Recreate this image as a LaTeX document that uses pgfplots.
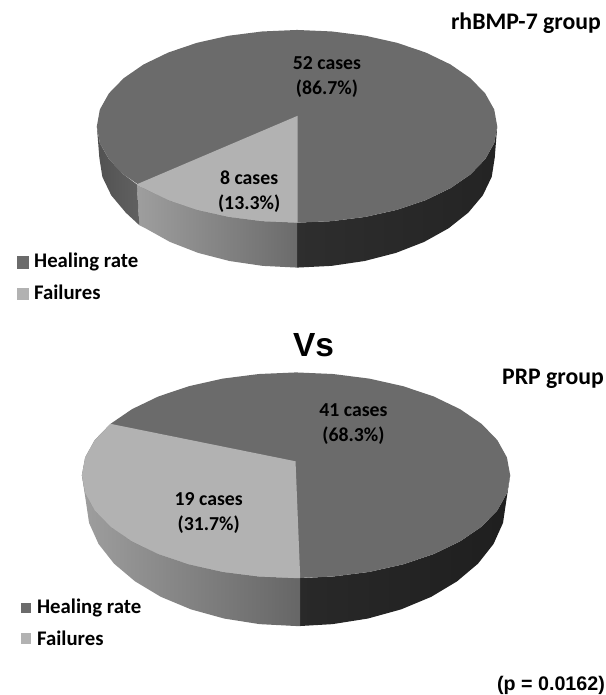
\documentclass[border=0pt]{standalone}
\usepackage{pgfplots}
\pgfplotsset{compat=1.18}
\usepackage{fontspec}
\setmainfont{Carlito}
\newfontfamily\arialb{Liberation Sans}
\definecolor{heal}{HTML}{6B6B6B}
\definecolor{fail}{HTML}{B2B2B2}
\newcommand{\lbl}{\fontsize{19.8}{25}\selectfont\bfseries}
\newcommand{\leg}{\fontsize{20.8}{25}\selectfont\bfseries}
\newcommand{\grp}{\fontsize{23.8}{25}\selectfont\bfseries}
\begin{document}
\begin{tikzpicture}
\begin{axis}[scale only axis,width=606pt,height=695pt,xmin=0,xmax=606,ymin=0,ymax=695,y dir=reverse,
  axis line style={draw=none},tick style={draw=none},xtick=\empty,ytick=\empty,clip=false,no markers]
% rhBMP-7 pie: walls
\addplot[draw=none,left color=black!82,right color=black!86] coordinates {(498,126.5)(495,143.3)(485.9,159.5)(471.1,174.8)(451.1,188.5)(426.4,200.4)(397.8,210.1)(366.1,217.2)(332.3,221.5)(297.5,223)(297.5,268)(331.9,266.3)(365.2,261.4)(396.5,253.3)(424.8,242.3)(449.2,228.7)(469,213)(483.6,195.6)(492.5,177.1)(495.5,158)} --cycle;
\addplot[draw=none,left color=black!38,right color=black!58] coordinates {(297.5,223)(262.7,221.5)(228.9,217.2)(197.2,210.1)(168.6,200.4)(143.9,188.5)(137,184.6)(139.5,225.5)(145.8,228.7)(170.2,242.3)(198.5,253.3)(229.8,261.4)(263.1,266.3)(297.5,268)} --cycle;
\addplot[draw=none,left color=black!68,right color=black!62] coordinates {(137,184.6)(123.9,174.8)(109.1,159.5)(100,143.3)(97,126.5)(99.5,158)(102.5,177.1)(111.4,195.6)(126,213)(139.5,225.5)} --cycle;
% rhBMP-7 pie: top face
\addplot[draw=none,fill=heal] coordinates {(297.5,30)(332.3,31.5)(366.1,35.8)(397.8,42.9)(426.4,52.6)(451.1,64.5)(471.1,78.3)(485.9,93.5)(495,109.7)(498,126.5)(495,143.3)(485.9,159.5)(471.1,174.8)(451.1,188.5)(426.4,200.4)(397.8,210.1)(366.1,217.2)(332.3,221.5)(297.5,223)(262.7,221.5)(228.9,217.2)(197.2,210.1)(168.6,200.4)(143.9,188.5)(123.9,174.8)(109.1,159.5)(100,143.3)(97,126.5)(100,109.7)(109.1,93.5)(123.9,78.3)(143.9,64.5)(168.6,52.6)(197.2,42.9)(228.9,35.8)(262.7,31.5)} --cycle;
\addplot[draw=none,fill=fail] coordinates {(298,116)(298,223)(262.7,221.5)(228.9,217.2)(197.2,210.1)(168.6,200.4)(143.9,188.5)(137,184.6)} --cycle;
% PRP pie: walls
\addplot[draw=none,left color=black!84,right color=black!88] coordinates {(511,476)(507.7,493.9)(498.1,511.2)(482.3,527.5)(460.8,542.2)(434.4,554.9)(403.8,565.2)(369.9,572.8)(333.7,577.4)(300.7,579)(300.7,627)(333.1,625.1)(368.5,619.5)(401.8,610.3)(431.8,597.8)(457.7,582.3)(478.8,564.5)(494.3,544.8)(503.8,523.7)(507,502)} --cycle;
\addplot[draw=none,left color=black!38,right color=black!60] coordinates {(300.7,579)(296.5,579)(259.3,577.4)(223.1,572.8)(189.2,565.2)(158.6,554.9)(132.2,542.2)(110.7,527.5)(94.9,511.2)(85.3,493.9)(82,476)(86,502)(89.2,523.7)(98.7,544.8)(114.2,564.5)(135.3,582.3)(161.2,597.8)(191.2,610.3)(224.5,619.5)(259.9,625.1)(296.5,627)(300.7,627)} --cycle;
% PRP pie: top face
\addplot[draw=none,fill=heal] coordinates {(296.5,373)(333.7,374.6)(369.9,379.2)(403.8,386.8)(434.4,397.1)(460.8,409.8)(482.3,424.5)(498.1,440.8)(507.7,458.1)(511,476)(507.7,493.9)(498.1,511.2)(482.3,527.5)(460.8,542.2)(434.4,554.9)(403.8,565.2)(369.9,572.8)(333.7,577.4)(296.5,579)(259.3,577.4)(223.1,572.8)(189.2,565.2)(158.6,554.9)(132.2,542.2)(110.7,527.5)(94.9,511.2)(85.3,493.9)(82,476)(85.3,458.1)(94.9,440.8)(110.7,424.5)(132.2,409.8)(158.6,397.1)(189.2,386.8)(223.1,379.2)(259.3,374.6)} --cycle;
\addplot[draw=none,fill=fail] coordinates {(296,462)(300.7,579)(296.5,579)(259.3,577.4)(223.1,572.8)(189.2,565.2)(158.6,554.9)(132.2,542.2)(110.7,527.5)(94.9,511.2)(85.3,493.9)(82,476)(85.3,458.1)(94.9,440.8)(110.7,424.5)} --cycle;
% legend swatches
\addplot[draw=none,fill=heal] coordinates {(17,256)(29,256)(29,269)(17,269)} --cycle;
\addplot[draw=none,fill=fail] coordinates {(17,288)(29,288)(29,300)(17,300)} --cycle;
\addplot[draw=none,fill=heal] coordinates {(21,604)(31,604)(31,614)(21,614)} --cycle;
\addplot[draw=none,fill=fail] coordinates {(21,634)(31,634)(31,645)(21,645)} --cycle;
% text
\node[inner sep=0pt,align=center,font=\lbl] at (axis cs:327.5,77) {52 cases\\(86.7\%)};
\node[inner sep=0pt,align=center,font=\lbl] at (axis cs:249.5,192) {8 cases\\(13.3\%)};
\node[inner sep=0pt,align=center,font=\lbl] at (axis cs:354,425) {41 cases\\(68.3\%)};
\node[inner sep=0pt,align=center,font=\lbl] at (axis cs:209,513.5) {19 cases\\(31.7\%)};
\node[inner sep=0pt,anchor=base east,font=\grp] at (axis cs:602,30) {rhBMP-7 group};
\node[inner sep=0pt,anchor=base east,font=\grp] at (axis cs:605,385.5) {PRP group};
\node[inner sep=0pt,anchor=base east,font=\fontsize{19.7}{24}\arialb\bfseries] at (axis cs:606,692) {(p = 0.0162)};
\node[inner sep=0pt,anchor=base,font=\fontsize{33.5}{38}\arialb\bfseries] at (axis cs:314,357) {Vs};
\node[inner sep=0pt,anchor=base west,font=\leg] at (axis cs:34,268) {Healing rate};
\node[inner sep=0pt,anchor=base west,font=\leg] at (axis cs:34,300) {Failures};
\node[inner sep=0pt,anchor=base west,font=\leg] at (axis cs:37,614.5) {Healing rate};
\node[inner sep=0pt,anchor=base west,font=\leg] at (axis cs:37,647) {Failures};
\end{axis}
\end{tikzpicture}
\end{document}
